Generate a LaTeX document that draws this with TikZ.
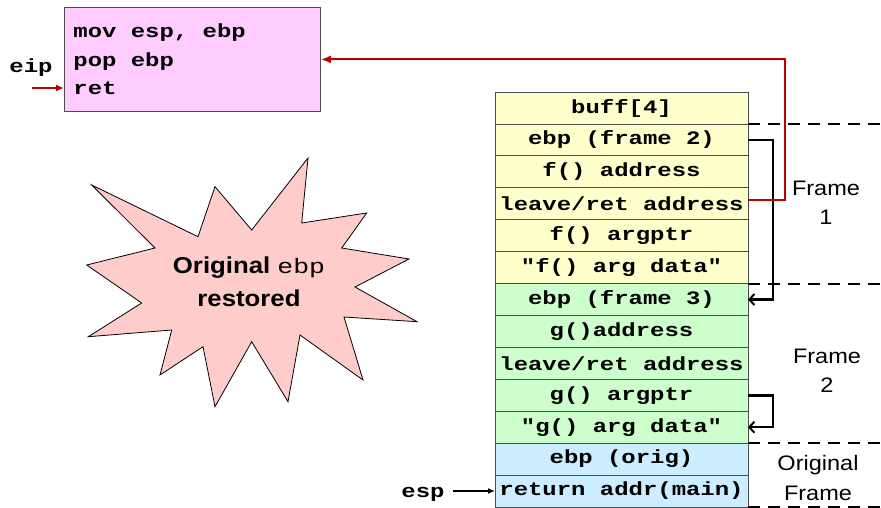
\documentclass[tikz,border=0pt]{standalone}
\usepackage{fontspec}
\usetikzlibrary{positioning,arrows.meta}
\newfontfamily\codefont{Liberation Mono}[FakeStretch=1.26, Ligatures=TeXOff, WordSpace={1,0,0}]
\newfontfamily\labelfont{Liberation Sans}[FakeStretch=1.12]
\newcommand\regname[1]{{\codefont\mdseries\fontsize{21}{33}\selectfont#1}}
\definecolor{pinkfill}{HTML}{FFCCFF}
\definecolor{yelfill}{HTML}{FFFFCC}
\definecolor{grnfill}{HTML}{CCFFCC}
\definecolor{blufill}{HTML}{CCECFF}
\definecolor{burstfill}{HTML}{FFCCCC}
\definecolor{darkred}{HTML}{C00000}

\begin{document}
\begin{tikzpicture}[x=1pt, y=-1pt,
	cell/.style={draw=black!70, line width=0.8pt, minimum width=253pt, minimum height=31.92pt, inner sep=0pt, outer sep=0pt, font=\codefont\bfseries\fontsize{19}{22}\selectfont},
	yel/.style={fill=yelfill}, grn/.style={fill=grnfill}, blu/.style={fill=blufill},
	code/.style={draw=black!70, line width=0.8pt, fill=pinkfill, anchor=north west, minimum width=256pt, minimum height=104pt, text width=238pt, inner xsep=9pt, align=left, font=\codefont\bfseries\fontsize{19}{28.5}\selectfont, execute at begin node={\spaceskip=0pt\xspaceskip=0pt}},
	reg/.style={anchor=base, font=\codefont\bfseries\fontsize{19}{22}\selectfont},
	lbl/.style={align=center, font=\labelfont\fontsize{21}{29.5}\selectfont},
	sep/.style={line width=2pt, dash pattern=on 12pt off 8pt},
	link/.style={line width=2.5pt, -{Straight Barb[length=5pt, width=11pt, line width=2pt]}},
	ret/.style={darkred, line width=2pt, -{Latex[length=10pt, width=8pt]}}]
	\useasboundingbox (0,0) rectangle (881,508);
	\coordinate (edge) at (881,0);

	% code being executed
	\node[code] (code) at (64,7) {mov esp, ebp\\pop ebp\\ret};
	\node[reg] (eip) at (31,73) {eip};
	\coordinate (eipfrom) at (32,88);

	% stack
	\node[cell, yel] (r1) at (621.5,108) {buff[4]};
	\node[cell, yel, below=0pt of r1] (r2) {ebp (frame 2)};
	\node[cell, yel, below=0pt of r2] (r3) {f() address};
	\node[cell, yel, below=0pt of r3] (r4) {leave/ret address};
	\node[cell, yel, below=0pt of r4] (r5) {f() argptr};
	\node[cell, yel, below=0pt of r5] (r6) {"f() arg data"};
	\node[cell, grn, below=0pt of r6] (r7) {ebp (frame 3)};
	\node[cell, grn, below=0pt of r7] (r8) {g()address};
	\node[cell, grn, below=0pt of r8] (r9) {leave/ret address};
	\node[cell, grn, below=0pt of r9] (r10) {g() argptr};
	\node[cell, grn, below=0pt of r10] (r11) {"g() arg data"};
	\node[cell, blu, below=0pt of r11] (r12) {ebp (orig)};
	\node[cell, blu, below=0pt of r12] (r13) {return addr(main)};
	\node[reg] (esp) at (423,497) {esp};

	% frames
	\draw[sep] (r1.south east) -- (r1.south east -| edge);
	\draw[sep] (r6.south east) -- (r6.south east -| edge);
	\draw[sep] (r11.south east) -- (r11.south east -| edge);
	\draw[sep] (r13.south east) -- (r13.south east -| edge);
	\node[lbl] (f1) at (826,203) {Frame\\1};
	\node[lbl] (f2) at (827,371) {Frame\\2};
	\node[lbl] (f0) at (818,478) {Original\\Frame};

	% message
	\filldraw[fill=burstfill, draw=black, line width=0.8pt]
		(91.7,185) -- (198,236.7) -- (215,186.7) -- (251.7,230) -- (308,158) -- (301.7,223)
		-- (366.7,213) -- (341.7,248) -- (409,259) -- (355,287) -- (417,321.7) -- (344,317)
		-- (363,380) -- (300,335) -- (288,401.7) -- (251.7,341.7) -- (215,406.7) -- (203,346.7)
		-- (160,375) -- (171.7,330) -- (88.3,336.7) -- (141.7,303) -- (86.7,265) -- (155,248) -- cycle;
	\node[align=center, font=\labelfont\bfseries\fontsize{23}{33}\selectfont] (msg) at (249,282)
		{Original \regname{ebp}\\restored};

	% pointers
	\draw[link] (r2.east) -- ++(25,0) |- (r7.east);
	\draw[link] (r10.east) -- ++(25,0) |- (r11.east);
	\draw[ret] ([yshift=4pt]r4.east) -- ++(37,0) |- (code.east);
	\draw[darkred, line width=2pt, -{Latex[length=8pt, width=7pt]}] (eipfrom) -- (eipfrom -| code.west);
	\draw[line width=1.5pt, -{Latex[length=7pt, width=6pt]}] ([xshift=5pt]esp.east |- r13.west) -- (r13.west);
\end{tikzpicture}
\end{document}
